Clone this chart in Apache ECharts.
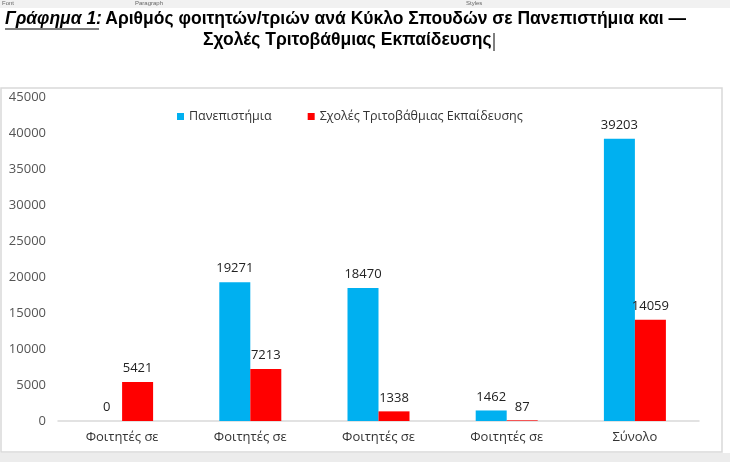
<!DOCTYPE html>
<html>
<head>
<meta charset="utf-8">
<script src="https://cdn.jsdelivr.net/npm/echarts@6/dist/echarts.min.js"></script>
<style>
  html, body { margin: 0; padding: 0; background: #fff; }
  #chart { width: 730px; height: 462px; }
</style>
</head>
<body>
<div id="chart"></div>
<script>
var categories = ['Φοιτητές σε', 'Φοιτητές σε', 'Φοιτητές σε', 'Φοιτητές σε', 'Σύνολο'];
var universities = [0, 19271, 18470, 1462, 39203];
var schools = [5421, 7213, 1338, 87, 14059];
var seriesNames = ['Πανεπιστήμια', 'Σχολές Τριτοβάθμιας Εκπαίδευσης'];

var myChart = echarts.init(document.getElementById('chart'));
var labelFont = '"Open Sans", "Noto Sans", sans-serif';
var titleFont = '"Liberation Sans", Arial, sans-serif';

var option = {
  backgroundColor: '#fff',
  animation: false,
  graphic: [
    // ribbon strip of the screenshot
    { type: 'rect', shape: { x: 0, y: 0, width: 730, height: 8 }, style: { fill: '#f1f1f1' } },
    { type: 'text', left: 2, top: 0, style: { text: 'Font', fontSize: 6, fill: '#666' } },
    { type: 'text', left: 135, top: 0, style: { text: 'Paragraph', fontSize: 6, fill: '#666' } },
    { type: 'text', left: 466, top: 0, style: { text: 'Styles', fontSize: 6, fill: '#666' } },
    // chart frame
    { type: 'rect', shape: { x: 1, y: 88, width: 721, height: 364 }, style: { fill: 'none', stroke: '#d9d9d9', lineWidth: 1.5 } },
    { type: 'rect', shape: { x: 0, y: 453, width: 730, height: 9 }, style: { fill: '#ececec' } },
    // title
    {
      type: 'text', left: 5, top: 10,
      style: {
        text: '{i|Γράφημα 1:} {b|Αριθμός φοιτητών/τριών ανά Κύκλο Σπουδών σε Πανεπιστήμια και —}',
        rich: {
          i: { fontFamily: titleFont, fontSize: 17.5, fontWeight: 'bold', fontStyle: 'italic', fill: '#000' },
          b: { fontFamily: titleFont, fontSize: 17.5, fontWeight: 'bold', fill: '#000' }
        }
      }
    },
    { type: 'line', shape: { x1: 5, y1: 29, x2: 99, y2: 29 }, style: { stroke: '#000', lineWidth: 1.2 } },
    {
      type: 'text', left: 203, top: 31,
      style: { text: 'Σχολές Τριτοβάθμιας Εκπαίδευσης', fontFamily: titleFont, fontSize: 17.5, fontWeight: 'bold', fill: '#000' }
    },
    { type: 'line', shape: { x1: 494, y1: 33, x2: 494, y2: 51 }, style: { stroke: '#000', lineWidth: 1 } }
  ],
  legend: {
    top: 105,
    left: 172,
    itemWidth: 7,
    itemHeight: 7,
    itemGap: 36,
    icon: 'rect',
    textStyle: { fontFamily: labelFont, fontSize: 12.5, color: '#333' },
    data: seriesNames
  },
  grid: { left: 58, right: 31, top: 97, bottom: 41 },
  xAxis: {
    type: 'category',
    data: categories,
    axisLine: { lineStyle: { color: '#d9d9d9', width: 1.5 } },
    axisTick: { show: false },
    axisLabel: { fontFamily: labelFont, fontSize: 13, color: '#333', margin: 10 }
  },
  yAxis: {
    type: 'value',
    min: 0,
    max: 45000,
    interval: 5000,
    axisLine: { show: false },
    axisTick: { show: false },
    splitLine: { show: false },
    axisLabel: {
      fontFamily: labelFont, fontSize: 13, color: '#555', margin: 12,
      formatter: function (v) { return String(v); }
    }
  },
  series: [
    {
      name: seriesNames[0],
      type: 'bar',
      data: universities,
      barWidth: 31,
      barGap: '0%',
      itemStyle: { color: '#00B0F0' },
      label: { show: true, position: 'top', fontFamily: labelFont, fontSize: 13, color: '#222', distance: 7 }
    },
    {
      name: seriesNames[1],
      type: 'bar',
      data: schools,
      barWidth: 31,
      barGap: '0%',
      itemStyle: { color: '#FF0000' },
      label: { show: true, position: 'top', fontFamily: labelFont, fontSize: 13, color: '#222', distance: 7 }
    }
  ]
};

myChart.setOption(option);
</script>
</body>
</html>
